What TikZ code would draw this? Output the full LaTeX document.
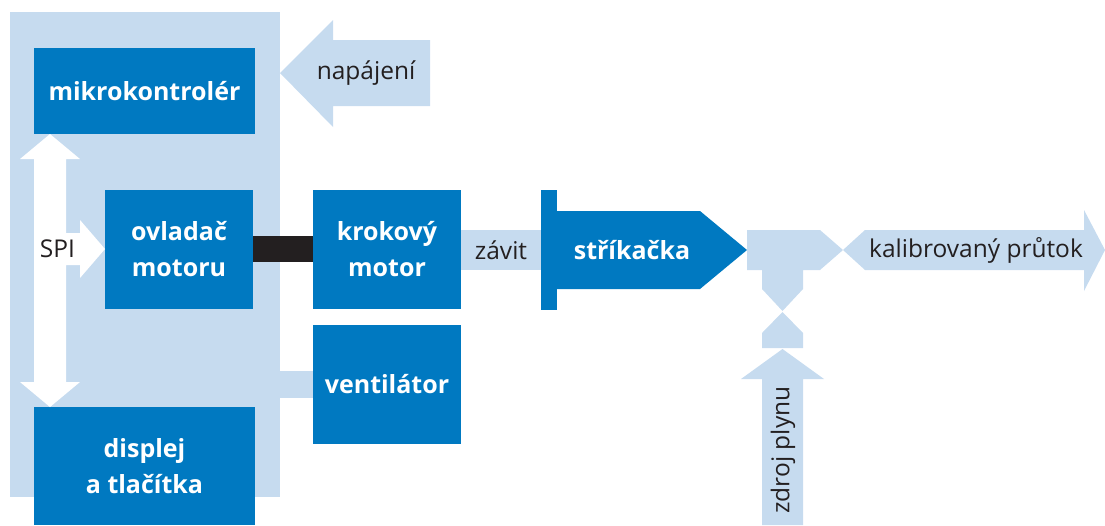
\documentclass[tikz,border=0pt]{standalone}
\usepackage{fontspec}
\setmainfont{Open Sans}
\definecolor{dblue}{HTML}{0079C1}
\definecolor{lblue}{HTML}{C6DBEF}
\definecolor{barblack}{HTML}{231F20}
\definecolor{txt}{HTML}{231F20}
\tikzset{
  box/.style={fill=dblue, text=white, inner sep=0pt, align=center,
    font=\fontsize{25}{36}\selectfont\bfseries},
  lbl/.style={text=txt, inner sep=0pt, font=\fontsize{24.5}{28}\selectfont},
}
\begin{document}
\begin{tikzpicture}[x=1pt,y=-1pt]
\useasboundingbox (0,0) rectangle (1105,525);
% panel
\fill[lblue] (10,12) rectangle (280,497);
% boxes
\node[box, minimum width=221, minimum height=86] (mikro) at (144.5,91) {mikrokontrolér};
\node[box, minimum width=148, minimum height=119] (ovl) at (179,249) {ovladač\\motoru};
\node[box, minimum width=148, minimum height=119] (krok) at (387,249) {krokový\\motor};
\node[box, minimum width=148, minimum height=119] (vent) at (387,384.5) {ventilátor};
\node[box, minimum width=221, minimum height=118] (disp) at (144.5,466) {displej\\a tlačítka};
% connectors
\coordinate (panelE) at (280,384.5);
\draw[lblue, line width=27] (panelE) -- (vent.west);
\draw[barblack, line width=26] (ovl.east) -- (krok.west);
% SPI double arrow
\fill[white] (50,134) -- (80,159) -- (66,159) -- (66,233) -- (80,233) -- (80,220) -- (105,249)
  -- (80,278) -- (80,265) -- (66,265) -- (66,382) -- (80,382) -- (50,407) -- (20,382)
  -- (34,382) -- (34,159) -- (20,159) -- cycle;
\node[lbl] (spi) at (57.5,249) {SPI};
% napajeni arrow
\fill[lblue] (280,73) -- (333,20) -- (333,40) -- (430,40) -- (430,106) -- (333,106) -- (333,127) -- cycle;
\node[lbl] (nap) at (366,73) {napájení};
% syringe
\fill[dblue] (541,190) rectangle (557,310);
\fill[dblue] (557,211) -- (700,211) -- (747,250) -- (700,289) -- (557,289) -- cycle;
\node[box, fill=none] (strik) at (632,250) {stříkačka};
\coordinate (flange) at (541,250);
\draw[lblue, line width=40] (krok.east |- flange) -- (flange);
\node[lbl] (zavit) at (501,250) {závit};
% T junction
\fill[lblue] (747,230) -- (820,230) -- (843,250) -- (820,270) -- (803,270) -- (803,289) -- (782.5,311)
  -- (762,289) -- (762,270) -- (747,270) -- cycle;
\fill[lblue] (782.5,312) -- (803,333) -- (803,348) -- (762,348) -- (762,333) -- cycle;
% gas source arrow
\fill[lblue] (782.5,349) -- (824,379) -- (803,379) -- (803,525) -- (762,525) -- (762,379) -- (741,379) -- cycle;
\node[lbl, rotate=90] (zdroj) at (783,450) {zdroj plynu};
% calibrated flow arrow
\fill[lblue] (843,250) -- (865,230) -- (1084,230) -- (1084,210) -- (1105,250) -- (1084,291) -- (1084,270) -- (865,270) -- cycle;
\node[lbl] (kal) at (976,250) {kalibrovaný průtok};
\end{tikzpicture}
\end{document}
